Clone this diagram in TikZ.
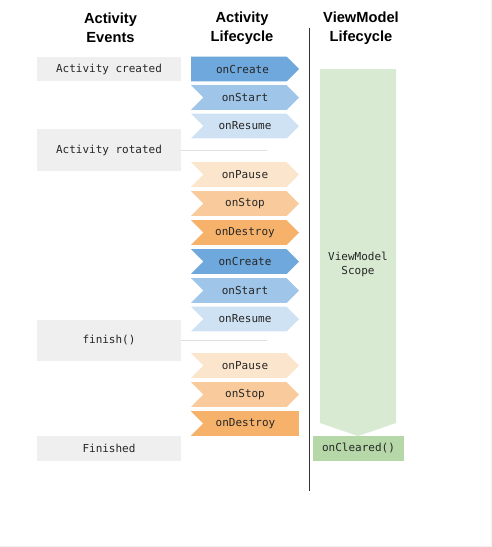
\documentclass[tikz,border=0pt]{standalone}
\usepackage{fontspec}
\setmainfont{Liberation Sans}
\setmonofont{DejaVu Sans Mono}
\usetikzlibrary{shapes}
\definecolor{evgray}{HTML}{EFEFEF}
\definecolor{create}{HTML}{6FA8DC}
\definecolor{start}{HTML}{9FC5E8}
\definecolor{resume}{HTML}{CFE2F3}
\definecolor{pause}{HTML}{FCE5CD}
\definecolor{stop}{HTML}{F9CB9C}
\definecolor{destroy}{HTML}{F6B26B}
\definecolor{scope}{HTML}{D9EAD3}
\definecolor{cleared}{HTML}{B6D7A8}

\begin{document}
\begin{tikzpicture}[x=0.75pt,y=-0.75pt,
  header/.style={align=center,font=\fontsize{11}{14.6}\selectfont\bfseries},
  mono/.style={font=\ttfamily\fontsize{8.25}{10.5}\selectfont,text=black!85},
  event/.style={mono,fill=evgray,minimum width=108pt,inner sep=0pt},
  stage/.style={mono,shape=signal,signal to=east,signal from=west,signal pointer angle=90,minimum width=81pt,minimum height=18.4pt,inner sep=0pt},
  guide/.style={draw=black!12,line width=0.75pt}]
\useasboundingbox (0,0) rectangle (492,547);
\draw[black!5,line width=0.75pt] (491.5,0) -- (491.5,546.5) -- (0,546.5);

\node[header] (h0) at (110.5,28) {Activity\\Events};
\node[header] (h1) at (242,28) {Activity\\Lifecycle};
\node[header] (h2) at (361,28) {ViewModel\\Lifecycle};

\node[event,minimum height=18pt] (e0) at (109,69) {Activity created};
\node[event,minimum height=31.5pt] (e1) at (109,150) {Activity rotated};
\node[event,minimum height=30.75pt] (e2) at (109,340.5) {finish()};
\node[event,minimum height=18.75pt] (e3) at (109,448.5) {Finished};

\coordinate (g1) at (267,150);
\coordinate (g2) at (267,340.5);
\path [guide] (e1.east) -- (g1);
\path [guide] (e2.east) -- (g2);

\node[stage,fill=create,signal from=nowhere] (s0) at (239,69) {\hspace*{5.25pt}onCreate};
\node[stage,fill=start] (s1) at (245,97.5) {onStart};
\node[stage,fill=resume] (s2) at (245,126) {onResume};
\node[stage,fill=pause] (s3) at (245,174.5) {onPause};
\node[stage,fill=stop] (s4) at (245,203.5) {onStop};
\node[stage,fill=destroy] (s5) at (245,232.5) {onDestroy};
\node[stage,fill=create] (s6) at (245,261.5) {onCreate};
\node[stage,fill=start] (s7) at (245,290.5) {onStart};
\node[stage,fill=resume] (s8) at (245,319) {onResume};
\node[stage,fill=pause] (s9) at (245,365.5) {onPause};
\node[stage,fill=stop] (s10) at (245,394.5) {onStop};
\node[stage,fill=destroy,signal to=nowhere] (s11) at (251,423.5) {\hspace*{-8.25pt}onDestroy};

\coordinate (v0) at (309.5,28);
\coordinate (v1) at (309.5,491);
\path [draw=black!80,line width=0.75pt] (v0) -- (v1);

\node[shape=signal,signal to=south,signal pointer angle=142,fill=scope,minimum width=57pt,minimum height=265.5pt,inner sep=0pt] (sc) at (358,246) {};
\node[mono,align=center] (sct) at (358,264) {ViewModel\\Scope};
\node[mono,fill=cleared,minimum width=68.25pt,minimum height=18.75pt,inner sep=0pt] (oc) at (358.5,448.5) {onCleared()};
\end{tikzpicture}
\end{document}
